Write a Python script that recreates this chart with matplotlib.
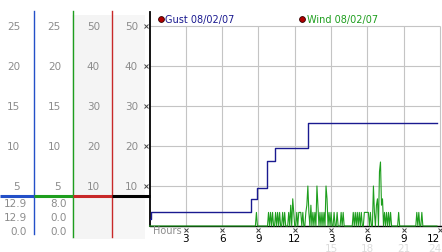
import numpy as np
import matplotlib.pyplot as plt

# ---- data ----
# gust (step changes), hours after midnight
gust_hours = [0.0, 0.1, 8.39, 8.86, 9.69, 10.37, 13.12, 23.76]
gust_speed = [0.9, 1.7, 3.4, 4.8, 8.1, 9.8, 12.9, 12.9]

# wind, one value every 5 minutes, one row per hour
wind_step_min = 5
wind_speed = [
    0, 0, 0, 0, 0, 0, 0, 0, 0, 0, 0, 0,                       # 0h
    0, 0, 0, 0, 0, 0, 0, 0, 0, 0, 0, 0,                       # 1h
    0, 0, 0, 0, 0, 0, 0, 0, 0, 0, 0, 0,                       # 2h
    0, 0, 0, 0, 0, 0, 0, 0, 0, 0, 0, 0,                       # 3h
    0, 0, 0, 0, 0, 0, 0, 0, 0, 0, 0, 0,                       # 4h
    0, 0, 0, 0, 0, 0, 0, 0, 0, 0, 0, 0,                       # 5h
    0, 0, 0, 0, 0, 0, 0, 0, 0, 0, 0, 0,                       # 6h
    0, 0, 0, 0, 0, 0, 0, 0, 0, 0, 0, 0,                       # 7h
    0, 0, 0, 0, 0, 0, 0, 0, 0, 0, 1.7, 0,                     # 8h
    0, 0, 0, 0, 0, 0, 0, 0, 0, 0, 1.7, 0,                     # 9h
    1.7, 0, 1.7, 0, 0, 1.7, 0, 1.7, 0, 1.7, 0, 0,             # 10h
    1.7, 0, 1.7, 0, 0, 0, 1.7, 0, 2.6, 0, 3.4, 1.7,           # 11h
    0, 0, 1.7, 0, 1.7, 1.7, 1.7, 0, 1.7, 0, 0, 1.7,           # 12h
    2.6, 5.0, 1.7, 0, 2.6, 0, 1.7, 0, 1.7, 0, 5.0, 2.6,       # 13h
    0, 1.7, 0, 1.7, 0, 1.7, 0, 5.0, 3.4, 0, 1.7, 0,           # 14h
    1.7, 0, 0, 1.7, 0, 0, 1.7, 0, 0, 0, 1.7, 0,               # 15h
    1.7, 0, 0, 0, 0, 0, 0, 0, 0, 0, 1.7, 0,                   # 16h
    1.7, 0, 1.7, 0, 1.7, 0, 1.7, 0, 0, 1.7, 1.7, 1.7,         # 17h
    1.7, 1.7, 0, 1.7, 0, 0, 5.0, 1.7, 0, 2.6, 3.4, 0,         # 18h
    6.8, 8.0, 2.6, 3.4, 0, 1.7, 0, 1.7, 0, 1.7, 0, 1.7,       # 19h
    0, 0, 0, 0, 0, 0, 0, 1.7, 0, 0, 0, 0,                     # 20h
    0, 0, 0, 0, 0, 0, 0, 0, 0, 0, 0, 0,                       # 21h
    0, 1.7, 0, 1.7, 0, 0, 1.7, 0, 0, 0, 0, 0,                 # 22h
    0, 0, 0, 0, 0, 0, 0, 0, 0, 0,                             # 23h
]

hour_ticks = [3, 6, 9, 12, 15, 18, 21, 24]
hour_labels = ['3', '6', '9', '12', '3', '6', '9', '12']
hour_labels_pm = ['15', '18', '21', '24']
speed_grid = [5, 10, 15, 20, 25]

# side panel
gust_scale = ['25', '20', '15', '10', '5']
wind_scale = ['25', '20', '15', '10', '5']
dbl_scale = ['50', '40', '30', '20', '10']
gust_stats = ['12.9', '12.9', '0.0']
wind_stats = ['8.0', '0.0', '0.0']
legend_labels = ['Gust 08/02/07', 'Wind 08/02/07']

# colours
c_gust = '#1a1a90'
c_wind = '#1e9e1e'
c_blue = '#2350c8'
c_red = '#c82828'
c_grey = '#8c8c8c'
c_grid = '#c4c4c4'

W, H = 442, 253
fig = plt.figure(figsize=(W / 100, H / 100), dpi=100)
fig.patch.set_facecolor('white')

# background axes in pixel coordinates for the side panel
bg = fig.add_axes([0, 0, 1, 1])
bg.set_xlim(0, W)
bg.set_ylim(H, 0)
bg.axis('off')

y0 = 227      # pixel row of speed 0
ppu = 8       # pixels per unit

bg.fill_between([72, 111], 16, 240, color='#f4f4f4', lw=0)
bg.fill_between([111, 145], 16, 240, color='#f6f6f6', lw=0)

for i, v in enumerate(speed_grid[::-1]):
    y = y0 - ppu * v
    bg.text(20, y, gust_scale[i], ha='right', va='center', fontsize=7.5, color=c_grey)
    bg.text(61, y, wind_scale[i], ha='right', va='center', fontsize=7.5, color=c_grey)
    bg.text(100, y, dbl_scale[i], ha='right', va='center', fontsize=7.5, color=c_grey)
    bg.text(138, y, dbl_scale[i], ha='right', va='center', fontsize=7.5, color=c_grey)

for i, yy in enumerate([204, 218, 232]):
    bg.text(27, yy, gust_stats[i], ha='right', va='center', fontsize=7.5, color=c_grey)
    bg.text(67, yy, wind_stats[i], ha='right', va='center', fontsize=7.5, color=c_grey)

bg.plot([33.5, 33.5], [12, 235], color=c_blue, lw=1.0)
bg.plot([72.5, 72.5], [12, 238], color=c_wind, lw=1.0)
bg.plot([111.5, 111.5], [12, 238], color=c_red, lw=1.0)
bg.plot([0, 33.5], [197, 197], color=c_blue, lw=2.2, solid_capstyle='butt')
bg.plot([33.5, 72.5], [197, 197], color=c_wind, lw=2.2, solid_capstyle='butt')
bg.plot([72.5, 111.5], [197, 197], color=c_red, lw=2.2, solid_capstyle='butt')
bg.plot([111.5, 150], [197, 197], color='black', lw=2.2, solid_capstyle='butt')

# legend
bg.plot([160.5, 302], [19.5, 19.5], 'o', ms=4.2, mfc='#b00000', mec='#300000', mew=0.6, ls='none')
bg.text(165, 19.5, legend_labels[0], ha='left', va='center', fontsize=7, color=c_gust)
bg.text(307, 19.5, legend_labels[1], ha='left', va='center', fontsize=7, color=c_wind)

# main plot
left, right = 149.5, 442
top = 13
ax = fig.add_axes([left / W, (H - y0) / H, (right - left) / W, (y0 - top) / H])
ax.patch.set_alpha(0)
ax.set_xlim(0, (right - left) / 12.104)
ax.set_ylim(0, (y0 - top) / ppu)

ax.hlines(speed_grid, 0, 24, color=c_grid, lw=0.8, zorder=1)
ax.vlines(hour_ticks, 0, 25, color=c_grid, lw=0.8, zorder=1)

wind_hours = np.arange(len(wind_speed)) * wind_step_min / 60
ax.plot(wind_hours, wind_speed, color=c_wind, lw=0.8, zorder=3, clip_on=False)
ax.plot(gust_hours, gust_speed, color=c_gust, lw=1.0, drawstyle='steps-post', zorder=4)

for s in ['top', 'right']:
    ax.spines[s].set_visible(False)
ax.spines['left'].set_linewidth(1.3)
ax.spines['bottom'].set_linewidth(1.0)
ax.spines['bottom'].set_zorder(2)

ax.set_yticks([])
ax.set_xticks(hour_ticks)
ax.set_xticklabels(hour_labels, fontsize=7.5, color='black')
ax.get_xticklabels()[-1].set_ha('right')
ax.tick_params(axis='x', length=0, pad=5)

# small tick marks
ax.plot(hour_ticks, [-0.45] * len(hour_ticks), 'x', ms=2.5, mew=0.7, color='#444444', clip_on=False)
ax.plot([-0.3] * len(speed_grid), speed_grid, 'x', ms=2.5, mew=0.7, color='#444444', clip_on=False)

ax.text(0.3, -0.56, 'Hours', ha='left', va='center', fontsize=7, color=c_grey)
for h, lab in zip(hour_ticks[4:], hour_labels_pm):
    ha = 'right' if h == hour_ticks[-1] else 'center'
    ax.text(h + (0.1 if ha == 'right' else 0), -2.8, lab, ha=ha, va='center',
            fontsize=7.5, color='#dcdcdc', clip_on=False)

fig.savefig('out.png', dpi=100)
